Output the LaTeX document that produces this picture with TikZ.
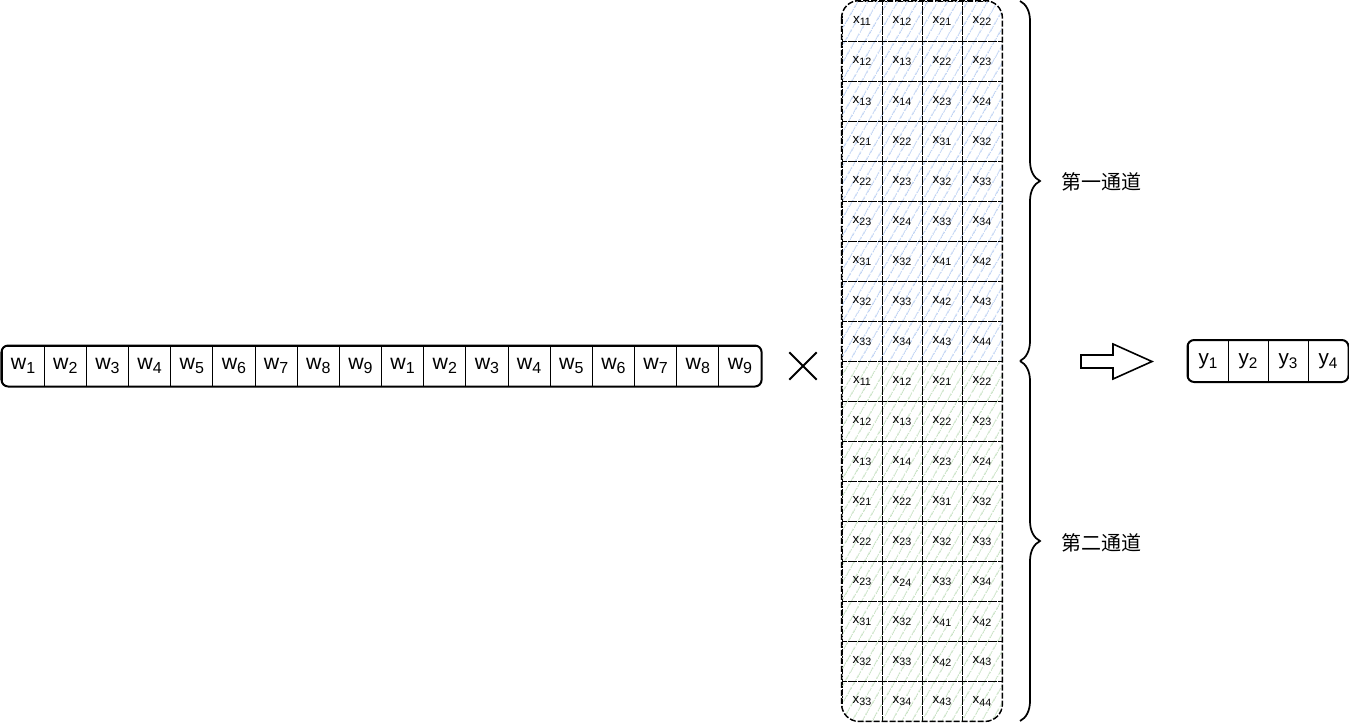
\documentclass[tikz,border=0pt]{standalone}
\usepackage{fontspec}
\setmainfont{Liberation Sans}
\newfontfamily\cjkfont{Noto Sans CJK SC}
\usetikzlibrary{patterns.meta,decorations.pathreplacing,shapes.misc}
\definecolor{hatchblue}{RGB}{190,210,243}
\definecolor{hatchgreen}{RGB}{200,226,196}
\newcommand\bigsub[1]{\raisebox{-3pt}{\fontsize{12}{14}\selectfont #1}}
\newcommand\ysub[1]{\raisebox{-3pt}{\fontsize{11.5}{14}\selectfont #1}}
\newcommand\smallsub[1]{\raisebox{-2.2pt}{\fontsize{8}{10}\selectfont #1}}
\begin{document}
\begin{tikzpicture}[x=0.75pt,y=-0.75pt,
  cellw/.style={minimum width=42.17*0.75pt, minimum height=40*0.75pt, inner sep=0pt, draw, line width=0.75pt, font=\fontsize{16}{18}\selectfont},
  celly/.style={minimum width=30pt, minimum height=41*0.75pt, inner sep=0pt, draw, line width=0.75pt, font=\fontsize{15.5}{18}\selectfont},
  cellx/.style={minimum size=30pt, inner sep=0pt, draw, line width=0.6pt, dash pattern=on 4pt off 1.2pt on 1pt off 1.2pt, font=\fontsize{10}{12}\selectfont},
  outerbox/.style={line width=1.5pt, rounded corners=5pt},
  hatch/.style={pattern={Lines[angle=60,distance=6.5pt,line width=0.9pt]}, pattern color=#1},
  bracestyle/.style={decorate, decoration={brace, amplitude=15pt}, line width=1.3pt},
  cjklabel/.style={font=\cjkfont\fontsize{15}{18}\selectfont, anchor=west, inner sep=0pt}
]
\useasboundingbox (0,0) rectangle (1349,722);

% w row
\begin{scope}
  \clip[rounded corners=5pt] (2,346) rectangle (761,386);
  \foreach \j in {1,...,18}{
    \pgfmathtruncatemacro\k{mod(\j-1,9)+1}
    \node[cellw] (w\j) at ({2+42.17*(\j-0.5)},366) {w\bigsub{\k}};
  }
\end{scope}
\draw[outerbox] (w1.north west) rectangle (w18.south east);

% times
\node[cross out, draw, minimum size=19pt, inner sep=0pt, line width=1.5pt] (times) at (803,366) {};

% matrix
\begin{scope}
  \clip[rounded corners=13pt] (842,1) rectangle (1002,721);
  \fill[hatch=hatchblue] (842,1) rectangle (1002,361);
  \fill[hatch=hatchgreen] (842,361) rectangle (1002,721);
  \foreach \r in {1,...,18}{
    \pgfmathtruncatemacro\rr{mod(\r-1,9)}
    \pgfmathtruncatemacro\a{div(\rr,3)+1}
    \pgfmathtruncatemacro\b{mod(\rr,3)+1}
    \pgfmathtruncatemacro\aa{\a+1}
    \pgfmathtruncatemacro\bb{\b+1}
    \node[cellx] (m-\r-1) at (862,{1+40*(\r-0.5)}) {x\smallsub{\a\b}};
    \node[cellx] (m-\r-2) at (902,{1+40*(\r-0.5)}) {x\smallsub{\a\bb}};
    \node[cellx] (m-\r-3) at (942,{1+40*(\r-0.5)}) {x\smallsub{\aa\b}};
    \node[cellx] (m-\r-4) at (982,{1+40*(\r-0.5)}) {x\smallsub{\aa\bb}};
  }
\end{scope}
\draw[line width=1.1pt, rounded corners=13pt, dash pattern=on 4.5pt off 1.5pt] (m-1-1.north west) rectangle (m-18-4.south east);

% braces
\coordinate (b0) at (1020,1);
\coordinate (b1) at (1020,361);
\coordinate (b2) at (1020,721);
\draw[bracestyle] (b0) -- (b1);
\draw[bracestyle] (b1) -- (b2);
\node[cjklabel] (c1) at (1061,182) {第一通道};
\node[cjklabel] (c2) at (1061,543) {第二通道};

% block arrow
\draw[line width=1.2pt, line join=miter] (1081,355) -- (1113,355) -- (1113,344) -- (1152,361.5) -- (1113,379) -- (1113,368) -- (1081,368) -- cycle;

% y row
\begin{scope}
  \clip[rounded corners=5pt] (1188,340.5) rectangle (1348,381.5);
  \foreach \j in {1,...,4}{
    \node[celly] (y\j) at ({1188+40*(\j-0.5)},361) {y\ysub{\j}};
  }
\end{scope}
\draw[outerbox] (y1.north west) rectangle (y4.south east);
\end{tikzpicture}
\end{document}
